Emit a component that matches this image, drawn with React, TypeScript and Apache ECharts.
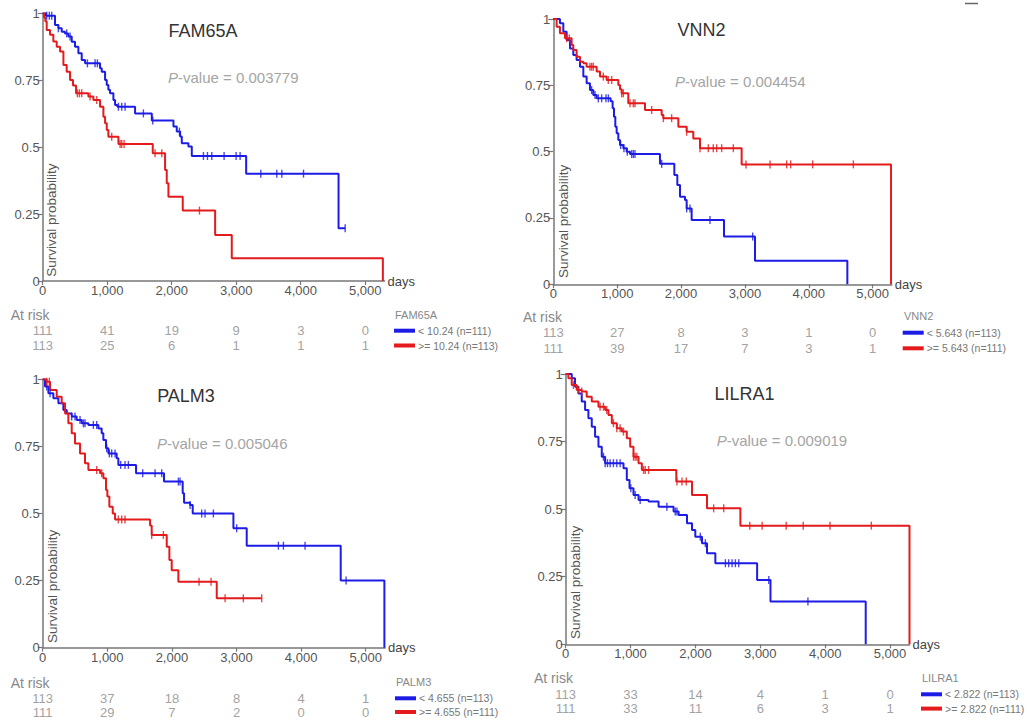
import React, { useEffect, useRef } from 'react';
import * as echarts from 'echarts';

type Pt = [number, number];

// ---------------- DATA ----------------
const GENES = ['FAM65A', 'VNN2', 'PALM3', 'LILRA1'];
const P_VALUES = ['0.003779', '0.004454', '0.005046', '0.009019'];
const LOW_LABELS = ['< 10.24 (n=111)', '< 5.643 (n=113)', '< 4.655 (n=113)', '< 2.822 (n=113)'];
const HIGH_LABELS = ['>= 10.24 (n=113)', '>= 5.643 (n=111)', '>= 4.655 (n=111)', '>= 2.822 (n=111)'];
const X_TICKS = [0, 1000, 2000, 3000, 4000, 5000];
const Y_TICKS = [0, 0.25, 0.5, 0.75, 1];
const RISK_DAYS = [0, 1000, 2000, 3000, 4000, 5000];
const RISK_LOW = [
  [111, 41, 19, 9, 3, 0],
  [113, 27, 8, 3, 1, 0],
  [113, 37, 18, 8, 4, 1],
  [113, 33, 14, 4, 1, 0],
];
const RISK_HIGH = [
  [113, 25, 6, 1, 1, 1],
  [111, 39, 17, 7, 3, 1],
  [111, 29, 7, 2, 0, 0],
  [111, 33, 11, 6, 3, 1],
];

const FAM65A_LOW: Pt[] = [[0, 1], [50, 0.991], [191, 0.956], [243, 0.944], [295, 0.931], [346, 0.925], [398, 0.913], [450, 0.894], [501, 0.875], [553, 0.851], [605, 0.826], [657, 0.813], [889, 0.795], [915, 0.782], [967, 0.751], [993, 0.732], [1018, 0.714], [1044, 0.701], [1096, 0.676], [1122, 0.657], [1158, 0.651], [1432, 0.626], [1691, 0.6], [2027, 0.577], [2078, 0.558], [2130, 0.54], [2156, 0.515], [2259, 0.502], [2311, 0.467], [3154, 0.401], [4586, 0.197], [4689, 0.197]];
const FAM65A_LOW_CENSOR = [62, 103, 140, 243, 372, 424, 693, 812, 848, 1174, 1225, 1277, 1561, 1706, 2120, 2492, 2554, 2621, 2812, 2998, 3060, 3381, 3629, 3707, 4043, 4689];
const FAM65A_HIGH: Pt[] = [[0, 1], [20, 0.985], [40, 0.97], [62, 0.938], [114, 0.92], [165, 0.895], [217, 0.875], [269, 0.857], [321, 0.807], [372, 0.782], [424, 0.751], [470, 0.73], [517, 0.701], [708, 0.689], [786, 0.676], [889, 0.651], [941, 0.614], [967, 0.589], [993, 0.564], [1018, 0.539], [1174, 0.512], [1706, 0.477], [1897, 0.415], [1923, 0.365], [1949, 0.315], [2171, 0.263], [2673, 0.172], [2931, 0.085], [5273, 0]];
const FAM65A_HIGH_CENSOR = [538, 569, 605, 734, 838, 1070, 1200, 1225, 1262, 1742, 1846, 2430];

const VNN2_LOW: Pt[] = [[0, 1], [104, 0.984], [157, 0.952], [209, 0.921], [261, 0.889], [313, 0.864], [365, 0.845], [418, 0.82], [470, 0.783], [522, 0.758], [574, 0.732], [626, 0.714], [679, 0.701], [898, 0.69], [929, 0.664], [950, 0.632], [971, 0.594], [992, 0.569], [1018, 0.544], [1044, 0.525], [1096, 0.513], [1148, 0.5], [1201, 0.491], [1670, 0.454], [1895, 0.412], [1942, 0.374], [1984, 0.33], [2062, 0.318], [2088, 0.286], [2166, 0.242], [2673, 0.18], [3158, 0.089], [4604, 0]];
const VNN2_LOW_CENSOR = [600, 653, 705, 757, 825, 862, 1054, 1106, 1159, 1227, 1253, 1279, 1697, 2088, 2140, 2453, 3122];
const VNN2_HIGH: Pt[] = [[0, 1], [52, 0.971], [104, 0.946], [183, 0.927], [287, 0.902], [313, 0.883], [365, 0.858], [418, 0.839], [470, 0.833], [522, 0.82], [679, 0.802], [731, 0.783], [835, 0.77], [1018, 0.751], [1044, 0.735], [1070, 0.72], [1174, 0.682], [1436, 0.657], [1697, 0.638], [1723, 0.626], [1958, 0.594], [2088, 0.575], [2192, 0.55], [2297, 0.513], [2949, 0.452], [5288, 0]];
const VNN2_HIGH_CENSOR = [209, 251, 574, 600, 626, 783, 861, 914, 1070, 1096, 1201, 1253, 1279, 1540, 1723, 1853, 2088, 2297, 2427, 2505, 2558, 2636, 2819, 3017, 3393, 3654, 3716, 4061, 4698];

const PALM3_LOW: Pt[] = [[0, 1], [36, 0.973], [88, 0.948], [165, 0.929], [243, 0.911], [320, 0.886], [372, 0.873], [449, 0.861], [526, 0.848], [604, 0.836], [707, 0.83], [862, 0.817], [913, 0.799], [939, 0.774], [980, 0.743], [1017, 0.724], [1145, 0.706], [1171, 0.681], [1445, 0.65], [1878, 0.619], [2167, 0.575], [2188, 0.54], [2281, 0.532], [2322, 0.5], [2952, 0.445], [3158, 0.38], [4613, 0.25], [5289, 0]];
const PALM3_LOW_CENSOR = [62, 114, 449, 500, 578, 630, 655, 784, 836, 991, 1032, 1068, 1120, 1207, 1274, 1326, 1548, 1739, 1842, 2100, 2126, 2281, 2461, 2513, 2642, 3003, 3648, 3726, 4061, 4696];
const PALM3_HIGH: Pt[] = [[0, 1], [62, 0.991], [113, 0.96], [217, 0.935], [294, 0.911], [346, 0.873], [397, 0.836], [449, 0.799], [500, 0.761], [578, 0.724], [655, 0.687], [707, 0.662], [888, 0.65], [939, 0.631], [980, 0.588], [1001, 0.563], [1032, 0.525], [1084, 0.5], [1120, 0.478], [1662, 0.455], [1687, 0.42], [1920, 0.376], [1961, 0.327], [1997, 0.289], [2100, 0.246], [2694, 0.184], [3390, 0.184]];
const PALM3_HIGH_CENSOR = [62, 103, 836, 913, 1171, 1223, 1274, 1687, 1868, 2420, 2606, 2823, 3106, 3390];

const LILRA1_LOW: Pt[] = [[0, 1], [93, 0.984], [144, 0.953], [196, 0.928], [247, 0.898], [299, 0.867], [350, 0.836], [402, 0.805], [453, 0.768], [505, 0.731], [556, 0.694], [608, 0.67], [891, 0.651], [942, 0.608], [984, 0.577], [1045, 0.552], [1123, 0.534], [1277, 0.528], [1432, 0.509], [1663, 0.491], [1741, 0.478], [1870, 0.448], [1947, 0.423], [1998, 0.398], [2101, 0.374], [2178, 0.337], [2307, 0.3], [2951, 0.238], [3157, 0.158], [4625, 0]];
const LILRA1_LOW_CENSOR = [582, 608, 644, 685, 736, 788, 839, 1004, 1071, 1148, 1560, 1689, 1715, 2075, 2153, 2462, 2513, 2565, 2616, 2668, 3131, 3734];
const LILRA1_HIGH: Pt[] = [[0, 1], [41, 0.984], [93, 0.959], [170, 0.941], [247, 0.935], [324, 0.916], [402, 0.898], [505, 0.879], [608, 0.867], [659, 0.848], [711, 0.818], [788, 0.799], [865, 0.787], [942, 0.762], [994, 0.731], [1045, 0.694], [1123, 0.67], [1174, 0.645], [1705, 0.602], [1947, 0.552], [2178, 0.503], [2693, 0.439], [5300, 0]];
const LILRA1_HIGH_CENSOR = [118, 196, 247, 530, 582, 633, 736, 788, 839, 891, 1045, 1071, 1097, 1200, 1226, 1277, 1715, 1792, 1859, 2281, 2436, 2838, 3028, 3399, 3662, 4074, 4712];

const LOW_CURVES = [FAM65A_LOW, VNN2_LOW, PALM3_LOW, LILRA1_LOW];
const LOW_CENSORS = [FAM65A_LOW_CENSOR, VNN2_LOW_CENSOR, PALM3_LOW_CENSOR, LILRA1_LOW_CENSOR];
const HIGH_CURVES = [FAM65A_HIGH, VNN2_HIGH, PALM3_HIGH, LILRA1_HIGH];
const HIGH_CENSORS = [FAM65A_HIGH_CENSOR, VNN2_HIGH_CENSOR, PALM3_HIGH_CENSOR, LILRA1_HIGH_CENSOR];

// ---------------- LAYOUT / STYLE ----------------
const X_MAX = 5300;
const BLUE = '#1c1ce6';
const RED = '#e41a1c';
const FONT = '"Liberation Sans", Arial, sans-serif';

const LAYOUT = [
  { grid: { left: 42.7, top: 13.3, width: 341.9, height: 267.7 }, title: [203, 31], p: [168, 77.7], surv: [51.7, 276.7], atRisk: [10.7, 315], rows: [330.7, 345.5], legend: [394, 330.7], legendTitle: [395, 315] },
  { grid: { left: 553.3, top: 19, width: 338.5, height: 265.3 }, title: [701.5, 30], p: [675, 81], surv: [563.3, 278], atRisk: [523, 316.7], rows: [332.7, 348.3], legend: [902.7, 332.7], legendTitle: [904, 315.5] },
  { grid: { left: 42.7, top: 379.3, width: 342.4, height: 268.4 }, title: [186, 396], p: [157, 443], surv: [52.3, 643], atRisk: [10.7, 682.7], rows: [698.3, 712], legend: [395, 698.3], legendTitle: [396, 681.7] },
  { grid: { left: 565.7, top: 374, width: 343.8, height: 270.3 }, title: [744.5, 394], p: [716.7, 440], surv: [575, 639], atRisk: [534, 678.3], rows: [694, 708.3], legend: [921, 694.3], legendTitle: [922, 677.7] },
];

function survAt(steps: Pt[], t: number): number {
  let s = 1;
  for (const [d, v] of steps) {
    if (d <= t) s = v;
    else break;
  }
  return s;
}

function buildOption() {
  const grid: any[] = [];
  const xAxis: any[] = [];
  const yAxis: any[] = [];
  const series: any[] = [];
  const legend: any[] = [];
  const graphic: any[] = [];

  GENES.forEach((gene, i) => {
    const L = LAYOUT[i];
    const gPlot = i * 2;
    const gRisk = i * 2 + 1;
    grid.push({ ...L.grid });
    grid.push({ left: L.grid.left, width: L.grid.width, top: L.rows[0], height: L.rows[1] - L.rows[0] });

    xAxis.push({
      gridIndex: gPlot,
      type: 'value',
      min: 0,
      max: X_MAX,
      name: 'days',
      nameLocation: 'end',
      nameGap: 3,
      nameTextStyle: { fontSize: 13, color: '#444', fontFamily: FONT, verticalAlign: 'middle' },
      axisLine: { show: true, onZero: false, lineStyle: { color: '#777', width: 1.5 } },
      axisTick: { show: true, length: 4, customValues: X_TICKS, lineStyle: { color: '#777', width: 1.2 } },
      axisLabel: {
        customValues: X_TICKS,
        fontSize: 13,
        color: '#555',
        margin: 3,
        fontFamily: FONT,
        formatter: (v: number) => v.toLocaleString('en-US'),
      },
      splitLine: { show: false },
    });
    xAxis.push({ gridIndex: gRisk, type: 'value', min: 0, max: X_MAX, show: false });

    yAxis.push({
      gridIndex: gPlot,
      type: 'value',
      min: 0,
      max: 1,
      interval: 0.25,
      axisLine: { show: true, lineStyle: { color: '#777', width: 1.5 } },
      axisTick: { show: true, length: 5, customValues: Y_TICKS, lineStyle: { color: '#777', width: 1.2 } },
      axisLabel: { fontSize: 13, color: '#555', margin: 3, fontFamily: FONT, customValues: Y_TICKS },
      splitLine: { show: false },
    });
    yAxis.push({ gridIndex: gRisk, type: 'value', min: 0, max: 1, inverse: true, show: false });

    const groups = [
      { name: LOW_LABELS[i], curve: LOW_CURVES[i], censor: LOW_CENSORS[i], color: BLUE },
      { name: HIGH_LABELS[i], curve: HIGH_CURVES[i], censor: HIGH_CENSORS[i], color: RED },
    ];
    groups.forEach((g) => {
      series.push({
        type: 'line',
        name: g.name,
        xAxisIndex: gPlot,
        yAxisIndex: gPlot,
        data: g.curve,
        step: 'end',
        showSymbol: false,
        symbol: 'none',
        silent: true,
        color: g.color,
        lineStyle: { color: g.color, width: 2 },
        z: 3,
      });
      series.push({
        type: 'scatter',
        name: g.name + ' censored',
        xAxisIndex: gPlot,
        yAxisIndex: gPlot,
        data: g.censor.map((t) => [t, survAt(g.curve, t)]),
        symbol: 'rect',
        symbolSize: [1.4, 8],
        silent: true,
        itemStyle: { color: g.color },
        z: 4,
      });
    });

    const riskData: any[] = [];
    RISK_DAYS.forEach((d, j) => {
      riskData.push([d, 0, RISK_LOW[i][j]]);
      riskData.push([d, 1, RISK_HIGH[i][j]]);
    });
    series.push({
      type: 'scatter',
      name: gene + ' at risk',
      xAxisIndex: gRisk,
      yAxisIndex: gRisk,
      data: riskData,
      symbolSize: 1,
      silent: true,
      itemStyle: { color: 'rgba(0,0,0,0)' },
      label: {
        show: true,
        position: 'inside',
        formatter: (p: any) => String(p.value[2]),
        fontSize: 13,
        color: '#888',
        fontFamily: FONT,
      },
    });

    legend.push({
      data: [LOW_LABELS[i], HIGH_LABELS[i]],
      left: L.legend[0],
      top: L.legend[1] - 6,
      orient: 'vertical',
      padding: 0,
      itemGap: L.rows[1] - L.rows[0] - 12,
      icon: 'rect',
      itemWidth: 21,
      itemHeight: 4,
      selectedMode: false,
      textStyle: { fontSize: 10.5, color: '#777', lineHeight: 12, fontFamily: FONT, padding: [0, 0, 0, -2] },
    });

    graphic.push({
      type: 'text', x: L.title[0], y: L.title[1], silent: true,
      style: { text: gene, fontSize: 18, fill: '#333', fontFamily: FONT, align: 'center', verticalAlign: 'middle' },
    });
    graphic.push({
      type: 'text', x: L.p[0], y: L.p[1], silent: true,
      style: {
        text: '{i|P}{n|-value = ' + P_VALUES[i] + '}',
        fontSize: 15, fill: '#a5a5a5', fontFamily: FONT, align: 'left', verticalAlign: 'middle',
        rich: {
          i: { fontSize: 15, fill: '#a5a5a5', fontFamily: FONT, fontStyle: 'italic' },
          n: { fontSize: 15, fill: '#a5a5a5', fontFamily: FONT },
        },
      },
    });
    graphic.push({
      type: 'text', x: L.surv[0], y: L.surv[1], rotation: Math.PI / 2, silent: true,
      style: { text: 'Survival probability', fontSize: 13.5, fill: '#555', fontFamily: FONT, align: 'left', verticalAlign: 'middle' },
    });
    graphic.push({
      type: 'text', x: L.atRisk[0], y: L.atRisk[1], silent: true,
      style: { text: 'At risk', fontSize: 14, fill: '#888', fontFamily: FONT, align: 'left', verticalAlign: 'middle' },
    });
    graphic.push({
      type: 'text', x: L.legendTitle[0], y: L.legendTitle[1], silent: true,
      style: { text: gene, fontSize: 11, fill: '#888', fontFamily: FONT, align: 'left', verticalAlign: 'middle' },
    });
  });

  graphic.push({
    type: 'line', silent: true,
    shape: { x1: 965, y1: 3.5, x2: 978, y2: 3.5 },
    style: { stroke: '#666', lineWidth: 1.5 },
  });

  return {
    animation: false,
    backgroundColor: '#ffffff',
    textStyle: { fontFamily: FONT },
    grid,
    xAxis,
    yAxis,
    legend,
    series,
    graphic,
  };
}

export default function App() {
  const ref = useRef<HTMLDivElement>(null);
  useEffect(() => {
    if (!ref.current) return;
    const chart = echarts.init(ref.current, undefined, { renderer: 'svg' });
    chart.setOption(buildOption() as any);
    return () => chart.dispose();
  }, []);
  return (
    <div
      ref={ref}
      style={{ position: 'absolute', left: 0, top: 0, width: 1032, height: 721, background: '#fff' }}
    />
  );
}
